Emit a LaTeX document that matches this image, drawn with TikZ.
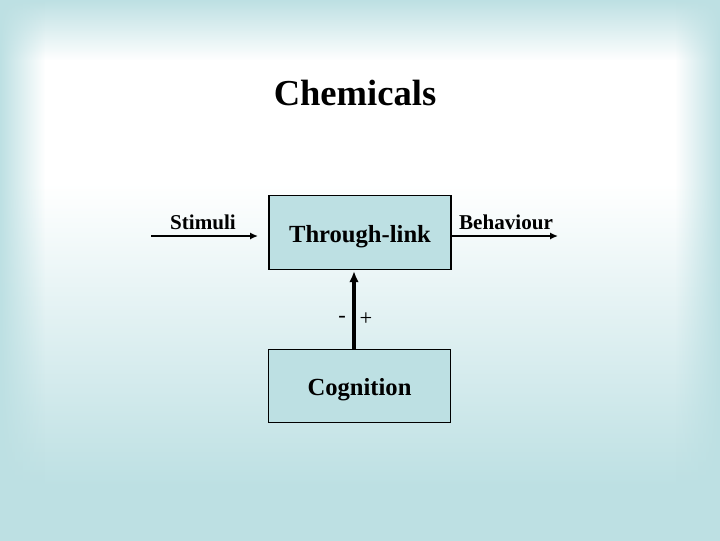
\documentclass[tikz,border=0pt]{standalone}
\usepackage{fontspec}
\setmainfont{Liberation Serif}
\usetikzlibrary{arrows.meta,positioning,fadings}

\definecolor{slideteal}{RGB}{189,224,227}
\pgfdeclareverticalshading{slidebg}{100bp}{color(0bp)=(slideteal); color(30bp)=(slideteal); color(58bp)=(white); color(100bp)=(white)}

\begin{document}
\begin{tikzpicture}[x=0.025cm, y=-0.025cm, >={Latex[length=2mm, width=1.8mm]},
	box/.style={draw, line width=0.8pt, fill=slideteal, minimum width=4.55cm, minimum height=1.83cm, inner sep=0pt, text height=14pt, text depth=0pt, font=\fontsize{17.5}{20}\selectfont\bfseries},
	lbl/.style={font=\fontsize{15}{18}\selectfont\bfseries, anchor=base},
	sign/.style={font=\fontsize{16}{18}\selectfont, inner sep=0pt}]
	% slide background
	\useasboundingbox (0,0) rectangle (720,540);
	\fill[slideteal] (0,0) rectangle (720,540);
	\shade[shading=slidebg] (0,0) rectangle (720,540);
	\fill[slideteal, path fading=south] (0,0) rectangle (720,60);
	\fill[slideteal, path fading=east] (0,0) rectangle (45,540);
	\fill[slideteal, path fading=west] (675,0) rectangle (720,540);
	% title
	\node[font=\fontsize{26}{30}\selectfont\bfseries, anchor=base] (title) at (355,105) {Chemicals};
	% boxes
	\node[box] (link) at (360,232.5) {Through-link};
	\node[box] (cog) at (359.5,386) {Cognition};
	% input and output
	\coordinate (stimin) at (151,236);
	\coordinate (stimend) at (258,236);
	\coordinate (behend) at (558,236);
	\draw[->, line width=1.3pt] (stimin) -- (stimend);
	\draw[->, line width=1.3pt] (link.east |- stimin) -- (behend);
	\node[lbl] (stim) at (203,229) {Stimuli};
	\node[lbl] (beh) at (506,229) {Behaviour};
	% feedback from cognition
	\coordinate (cogtop) at (354,349);
	\coordinate (linkbot) at (354,271);
	\draw[->, line width=2.4pt, >={Latex[length=2.8mm, width=2.4mm]}] (cogtop) -- (linkbot);
	\node[sign] (minus) at (342,319) {-};
	\node[sign] (plus) at (366,319) {+};
\end{tikzpicture}
\end{document}
